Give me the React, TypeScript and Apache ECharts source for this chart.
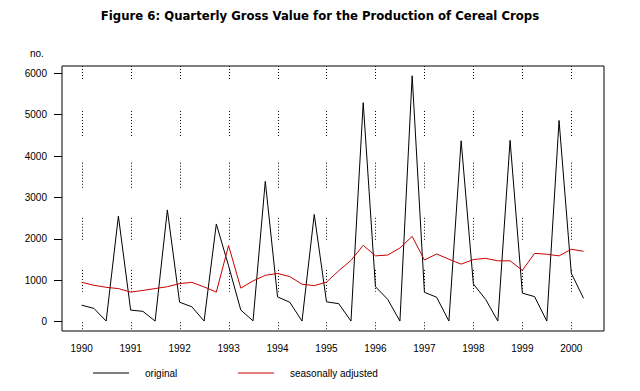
import React, { useEffect, useRef } from "react";
import * as echarts from "echarts";

const years = [1990, 1991, 1992, 1993, 1994, 1995, 1996, 1997, 1998, 1999, 2000];
const yTicks = [0, 1000, 2000, 3000, 4000, 5000, 6000];

// quarterly, 1990 Q1 .. 2000 Q2
const original = [
  400, 320, 15, 2550,
  280, 250, 15, 2700,
  470, 360, 15, 2360,
  1350, 280, 20, 3390,
  600, 470, 15, 2590,
  480, 435, 15, 5290,
  845, 540, 15, 5940,
  710, 590, 15, 4370,
  910, 540, 15, 4380,
  690, 605, 15, 4860,
  1170, 565,
];
const adjusted = [
  950, 880, 830, 800,
  715, 755, 800, 845,
  920, 950, 840, 715,
  1840, 810, 985, 1120,
  1165, 1090, 905, 870,
  955, 1230, 1480, 1845,
  1590, 1610, 1780, 2060,
  1490, 1635, 1510, 1390,
  1500, 1530, 1470, 1470,
  1240, 1650, 1630, 1590,
  1750, 1700,
];

// dotted vertical grid segments (value ranges) drawn at each year
const gridSegments = [
  [6176, 5820],
  [5090, 4485],
  [3840, 3230],
  [2510, 1975],
  [1250, 725],
  [-15, -225],
];

const Y_MIN = -225;
const Y_MAX = 6176;
const X_MIN = 1989.598;
const X_MAX = 2000.668;

const FONT = "'Liberation Sans', Arial, sans-serif";

export default function App() {
  const ref = useRef<HTMLDivElement>(null);

  useEffect(() => {
    if (!ref.current) return;
    const chart = echarts.init(ref.current, undefined, { renderer: "svg" });

    const qx = (i: number) => years[0] + i / 4;
    const origData = original.map((v, i) => [qx(i), v]);
    const adjData = adjusted.map((v, i) => [qx(i), v]);
    const segData: number[][] = [];
    years.forEach((yr) => gridSegments.forEach((s) => segData.push([yr, s[0], s[1]])));

    chart.setOption({
      animation: false,
      backgroundColor: "#fff",
      title: {
        text: "Figure 6: Quarterly Gross Value for the Production of Cereal Crops",
        left: "center",
        top: 4,
        textStyle: {
          fontFamily: "'Liberation Sans Narrow', 'DejaVu Sans Condensed', 'Open Sans', sans-serif",
          fontWeight: "bold",
          fontSize: 13,
          color: "#000",
        },
      },
      graphic: [
        {
          type: "text",
          left: 30,
          top: 48,
          style: { text: "no.", fontFamily: FONT, fontSize: 10, fill: "#000" },
        },
      ],
      legend: [
        {
          data: ["original"],
          left: 88,
          top: 363,
          icon: "rect",
          itemWidth: 36,
          itemHeight: 1,
          textStyle: { fontFamily: FONT, fontSize: 10, color: "#000", padding: [0, 0, 0, 11] },
        },
        {
          data: ["seasonally adjusted"],
          left: 233,
          top: 363,
          icon: "rect",
          itemWidth: 36,
          itemHeight: 1,
          textStyle: { fontFamily: FONT, fontSize: 10, color: "#000", padding: [0, 0, 0, 11] },
        },
      ],
      grid: {
        left: 62,
        top: 66,
        right: 36,
        bottom: 60,
        show: true,
        borderColor: "#000",
        borderWidth: 1,
        backgroundColor: "transparent",
      },
      xAxis: {
        type: "value",
        min: X_MIN,
        max: X_MAX,
        splitLine: { show: false },
        axisLine: { show: false },
        axisTick: { show: false },
        axisLabel: {
          customValues: years,
          margin: 12,
          fontFamily: FONT,
          fontSize: 10,
          color: "#000",
          formatter: (v: number) => String(Math.round(v)),
        },
      },
      yAxis: {
        type: "value",
        min: Y_MIN,
        max: Y_MAX,
        splitLine: { show: false },
        axisLine: { show: false },
        axisTick: {
          show: true,
          customValues: yTicks,
          length: 8,
          lineStyle: { color: "#000", width: 1 },
        },
        axisLabel: {
          customValues: yTicks,
          margin: 15,
          fontFamily: FONT,
          fontSize: 10,
          color: "#000",
          formatter: (v: number) => String(Math.round(v)),
        },
      },
      series: [
        {
          type: "custom",
          name: "grid",
          silent: true,
          z: 1,
          encode: { x: 0, y: [1, 2] },
          data: segData,
          renderItem: (params: any, api: any) => {
            const p1 = api.coord([api.value(0), api.value(1)]);
            const p2 = api.coord([api.value(0), api.value(2)]);
            const x = Math.round(p1[0]) + 0.5;
            return {
              type: "line",
              shape: { x1: x, y1: p1[1], x2: x, y2: p2[1] },
              style: { stroke: "#000", lineWidth: 1, lineDash: [1, 2] },
            };
          },
        },
        {
          type: "line",
          name: "original",
          data: origData,
          symbol: "none",
          showSymbol: false,
          color: "#000",
          lineStyle: { color: "#000", width: 1 },
          z: 3,
        },
        {
          type: "line",
          name: "seasonally adjusted",
          data: adjData,
          symbol: "none",
          showSymbol: false,
          color: "#c80000",
          lineStyle: { color: "#c80000", width: 1 },
          z: 4,
        },
      ],
    });

    return () => chart.dispose();
  }, []);

  return (
    <div
      ref={ref}
      style={{ position: "fixed", left: 0, top: 0, width: 640, height: 391, background: "#fff" }}
    />
  );
}
